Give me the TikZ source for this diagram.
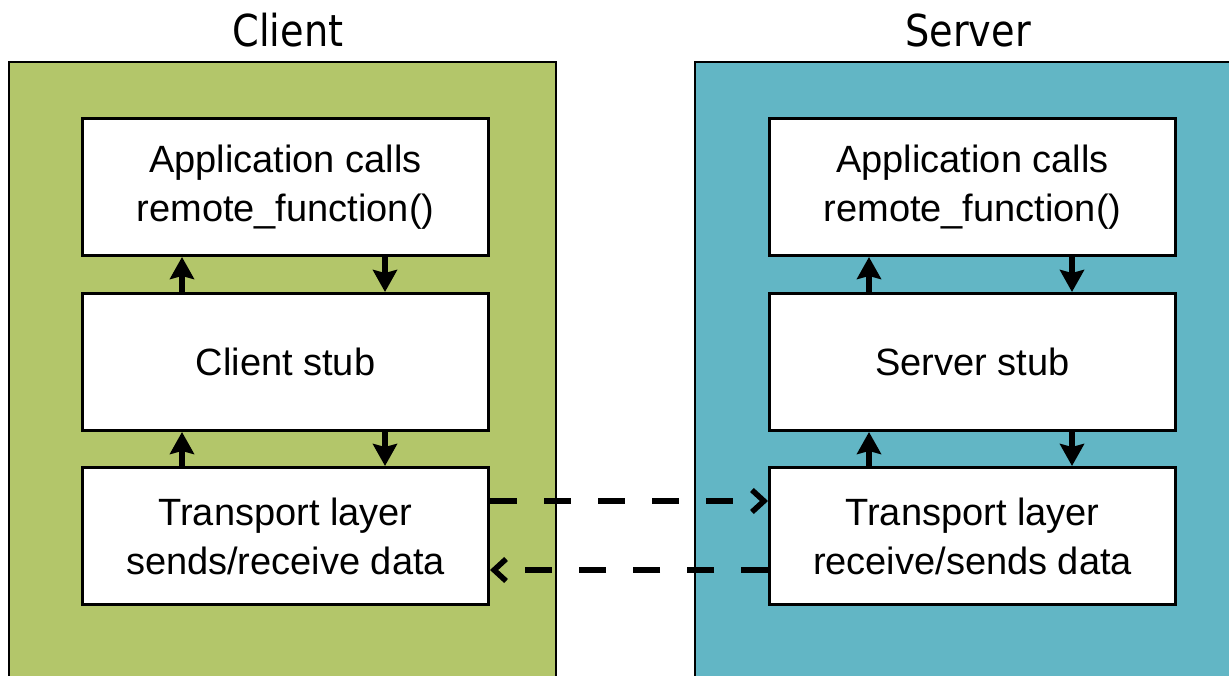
\documentclass[tikz,border=0pt]{standalone}
\usepackage{fontspec}
\setmainfont{Liberation Sans}
\newfontfamily\titlefont[FakeStretch=0.87]{DejaVu Sans}
\usetikzlibrary{arrows.meta}
\definecolor{clientgreen}{RGB}{179,198,106}
\definecolor{serverteal}{RGB}{98,182,197}
\begin{document}
\begin{tikzpicture}[x=1pt,y=-1pt,
  panel/.style={draw=black,line width=2.5pt},
  layerbox/.style={draw=black,fill=white,line width=3pt,
    minimum width=406pt,minimum height=137pt,anchor=north west,
    align=center,inner sep=0pt,font=\fontsize{38}{49}\selectfont},
  title/.style={font=\titlefont\fontsize{44}{50}\selectfont,inner sep=0pt},
  callarrow/.style={line width=6pt,
    -{Stealth[length=22pt,width=24pt,inset=3pt]}},
  netarrow/.style={line width=5.5pt,dash pattern=on 27pt off 27pt,
    -{Straight Barb[length=12pt,width=22pt]}}]
\useasboundingbox (0,0) rectangle (1229,676);

% host panels
\draw[panel,fill=clientgreen] (9,62) rectangle (556,680);
\draw[panel,fill=serverteal] (695,62) rectangle (1240,680);
\node[title] (ctitle) at (288,30) {Client};
\node[title] (stitle) at (968,30) {Server};

% client side layers
\node[layerbox] (capp) at (81,117) {Application calls\\remote\_function()};
\node[layerbox] (cstub) at (81,292) {Client stub};
\node[layerbox] (ctrans) at (81,466) {Transport layer\\sends/receive data};

% server side layers
\node[layerbox] (sapp) at (768,117) {Application calls\\remote\_function()};
\node[layerbox] (sstub) at (768,292) {Server stub};
\node[layerbox] (strans) at (768,466) {Transport layer\\receive/sends data};

% calls up and down each stack
\draw[callarrow] ([xshift=101pt]cstub.north west) -- ([xshift=101pt]capp.south west);
\draw[callarrow] ([xshift=304pt]capp.south west) -- ([xshift=304pt]cstub.north west);
\draw[callarrow] ([xshift=101pt]ctrans.north west) -- ([xshift=101pt]cstub.south west);
\draw[callarrow] ([xshift=304pt]cstub.south west) -- ([xshift=304pt]ctrans.north west);
\draw[callarrow] ([xshift=101pt]sstub.north west) -- ([xshift=101pt]sapp.south west);
\draw[callarrow] ([xshift=304pt]sapp.south west) -- ([xshift=304pt]sstub.north west);
\draw[callarrow] ([xshift=101pt]strans.north west) -- ([xshift=101pt]sstub.south west);
\draw[callarrow] ([xshift=304pt]sstub.south west) -- ([xshift=304pt]strans.north west);

% network traffic between transport layers
\draw[netarrow] ([yshift=35pt]ctrans.east) -- ([yshift=35pt]strans.west);
\draw[netarrow] ([yshift=-34pt]strans.west) -- ([yshift=-34pt]ctrans.east);
\end{tikzpicture}
\end{document}
